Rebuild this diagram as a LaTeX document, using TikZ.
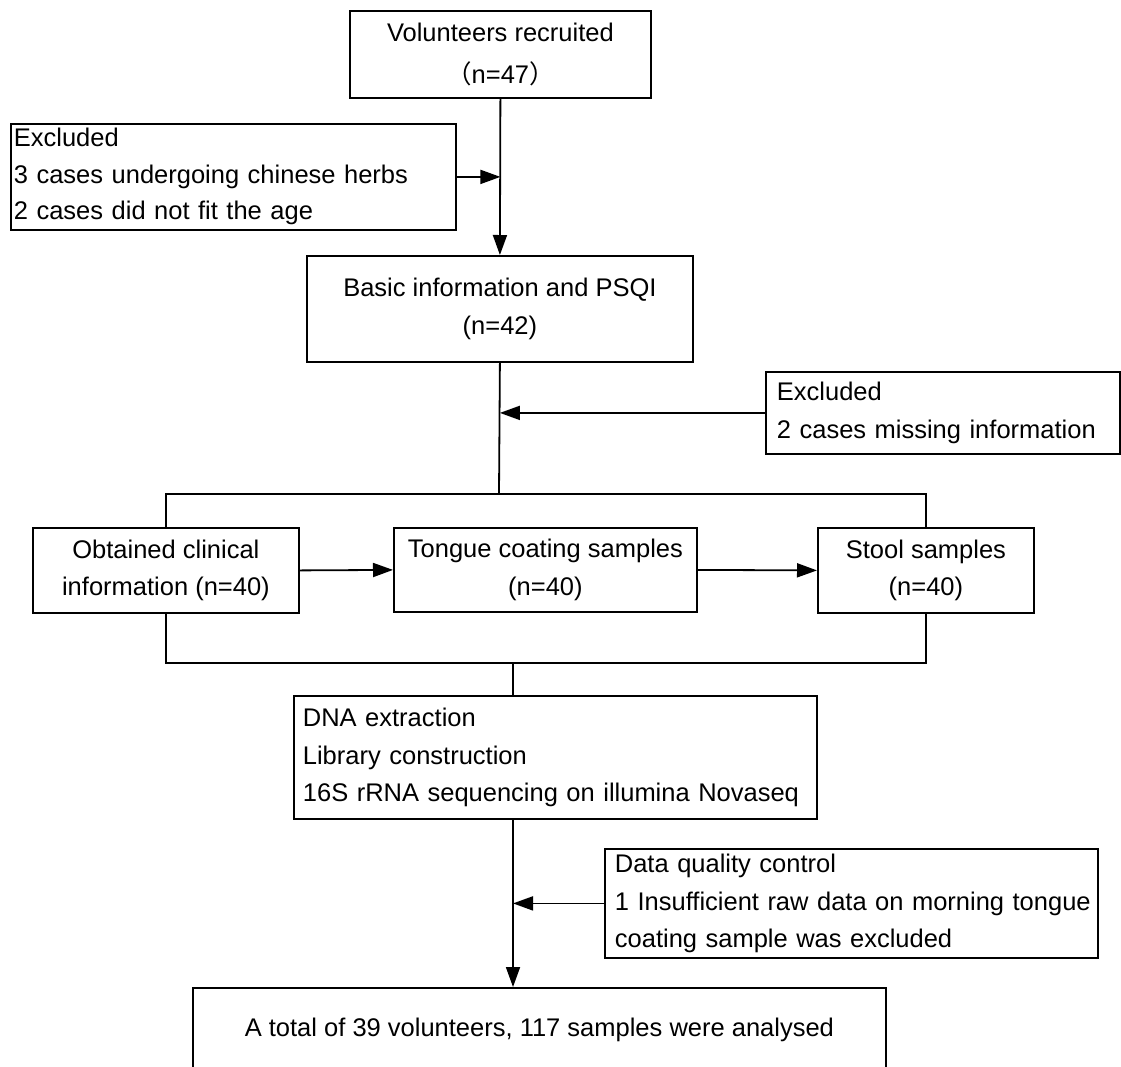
\documentclass[tikz,border=0pt]{standalone}
\usepackage{fontspec}
\setmainfont{Liberation Sans}
\newfontfamily\cjkfont{Noto Sans CJK SC}
\usetikzlibrary{arrows.meta}
\begin{document}
\begin{tikzpicture}[x=1pt,y=-1pt,
  every node/.style={font=\fontsize{25.5}{37.5}\selectfont, text=black},
  flowbox/.style={draw=black, line width=1.8pt, rectangle, inner sep=0pt, anchor=north west},
  leftbox/.style={flowbox, align=left},
  conn/.style={draw=black, line width=1.8pt},
  arrowline/.style={conn, -{Triangle[length=20pt,width=14pt]}}]
\useasboundingbox (0,0) rectangle (1121,1066);
\fill[white] (0,0) rectangle (1121,1066);

\node[flowbox, align=center, minimum width=301pt, minimum height=87pt,
      font=\fontsize{25.5}{42}\selectfont] (V) at (349,10)
  {Volunteers recruited\\{\cjkfont （}n=47{\cjkfont ）}};
\node[leftbox, text width=439pt, inner xsep=3pt, minimum height=106pt,
      font=\fontsize{25.5}{36.5}\selectfont] (E1) at (10,123)
  {\mbox{Excluded}\\\mbox{3 cases undergoing chinese herbs}\\\mbox{2 cases did not fit the age}};
\node[flowbox, align=center, minimum width=386pt, minimum height=106pt] (B) at (306,255)
  {Basic information and PSQI\\(n=42)};
\node[leftbox, text width=332pt, inner xsep=11pt, minimum height=82pt] (E2) at (765,371)
  {\mbox{Excluded}\\\mbox{2 cases missing information}};
\node[flowbox, align=center, minimum width=266pt, minimum height=85pt] (L) at (32,527)
  {Obtained clinical\\information (n=40)};
\node[flowbox, align=center, minimum width=303pt, minimum height=84pt] (T) at (393,527)
  {Tongue coating samples\\(n=40)};
\node[flowbox, align=center, minimum width=216pt, minimum height=85pt] (S) at (817,527)
  {Stool samples\\(n=40)};
\node[leftbox, text width=505pt, inner xsep=9pt, minimum height=123pt] (D) at (293,695)
  {\mbox{DNA extraction}\\\mbox{Library construction}\\\mbox{16S rRNA sequencing on illumina Novaseq}};
\node[leftbox, text width=473pt, inner xsep=10pt, minimum height=109pt] (Q) at (604,848)
  {\mbox{Data quality control}\\\mbox{1 Insufficient raw data on morning tongue}\\\mbox{coating sample was excluded}};
\node[flowbox, align=center, minimum width=693pt, minimum height=83pt] (F) at (192,987)
  {A total of 39 volunteers, 117 samples were analysed};

\coordinate (br) at (499,494);
\coordinate (bb) at (513,663);

\draw[arrowline] (V.south) -- (B.north);
\draw[arrowline] (E1.east) -- (E1.east -| V.south);
\draw[conn] (B.south) -- (br);
\draw[arrowline] (E2.west) -- (E2.west -| B.south);
\draw[conn] (L.north) |- (br) -| (S.north);
\draw[arrowline] (L.east) -- (T.west);
\draw[arrowline] (T.east) -- (S.west);
\draw[conn] (L.south) |- (bb) -| (S.south);
\draw[conn] (bb) -- (bb |- D.north);
\draw[arrowline] (bb |- D.south) -- (bb |- F.north);
\draw[arrowline] (Q.west) -- (Q.west -| bb);
\end{tikzpicture}
\end{document}
